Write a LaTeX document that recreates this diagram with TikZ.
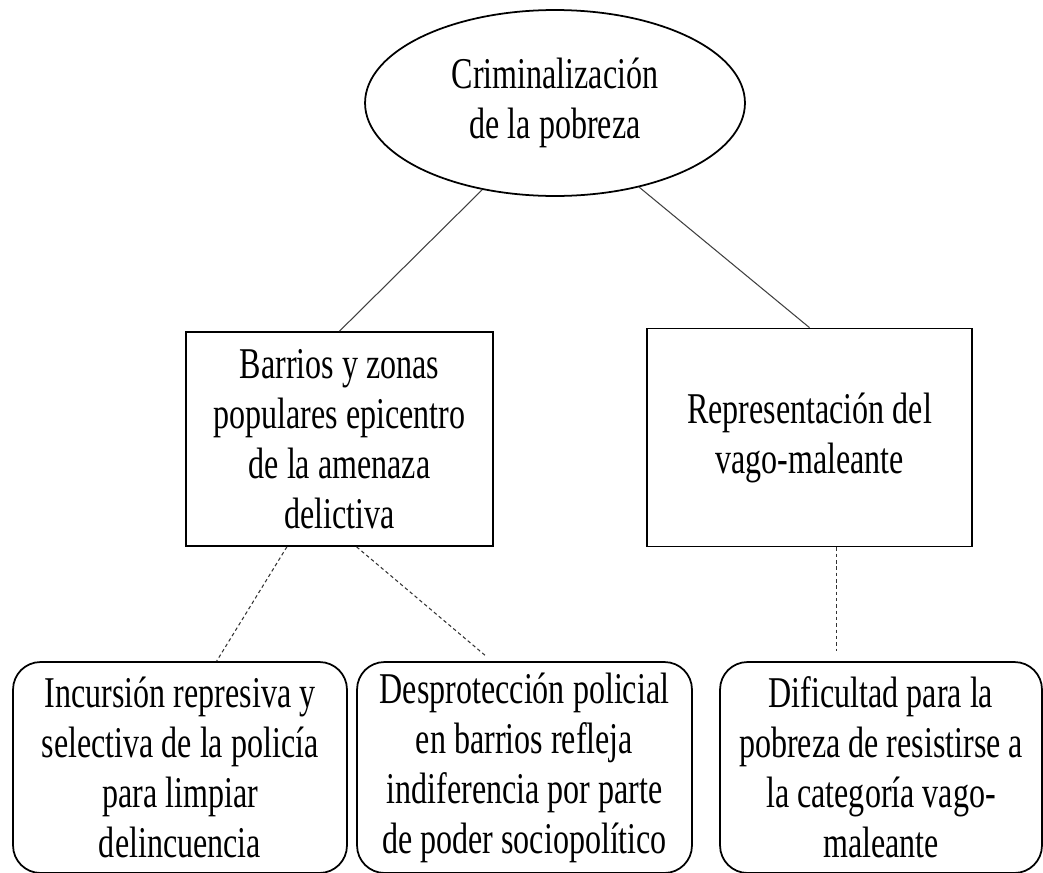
\documentclass[tikz,border=0pt]{standalone}
\usepackage{fontspec}
\setmainfont{Liberation Serif}[FakeStretch=0.73]
\usetikzlibrary{shapes.geometric}
\begin{document}
\begin{tikzpicture}[x=0.02cm, y=-0.02cm,
    font=\fontsize{25}{28.5}\selectfont,
    caja/.style={draw, line width=1pt, align=center, inner sep=2pt},
    redonda/.style={caja, rounded corners=0.55cm, minimum height=4.22cm},
    linea/.style={line width=0.6pt, black!75},
    puntos/.style={line width=0.6pt, black!80, dash pattern=on 2pt off 1.6pt}]
    \useasboundingbox (0,0) rectangle (1043,872);
    \clip (0,0) rectangle (1043,872);
\node[caja, ellipse, minimum width=7.6cm, minimum height=3.72cm] (crim) at (555,103) {Criminalización\\de la pobreza};
\node[caja, minimum width=6.14cm, minimum height=4.28cm] (barrios) at (339.5,439) {Barrios y zonas\\populares epicentro\\de la amenaza\\delictiva};
\node[caja, minimum width=6.5cm, minimum height=4.36cm] (repr) at (809.5,437.5) {Representación del\\vago-maleante};
\node[redonda, minimum width=6.68cm] (incur) at (180,767.5) {Incursión represiva y\\selectiva de la policía\\para limpiar\\delincuencia};
\node[redonda, minimum width=6.7cm] (despr) at (524.5,767.5) {Desprotección policial\\en barrios refleja\\indiferencia por parte\\de poder sociopolítico};
\node[redonda, minimum width=6.44cm] (dific) at (881,767.5) {Dificultad para la\\pobreza de resistirse a\\la categoría vago-\\maleante};
    \draw[linea] (crim.230) -- (barrios.north);
    \draw[linea] (crim.315) -- (repr.north);
    \draw[puntos] (barrios.244) -- (incur.71);
    \draw[puntos, shorten >=0.16cm] (barrios.279) -- (despr.107);
    \draw[puntos, shorten >=0.2cm] (repr.284) -- (repr.284 |- dific.north);
    \end{tikzpicture}
\end{document}
